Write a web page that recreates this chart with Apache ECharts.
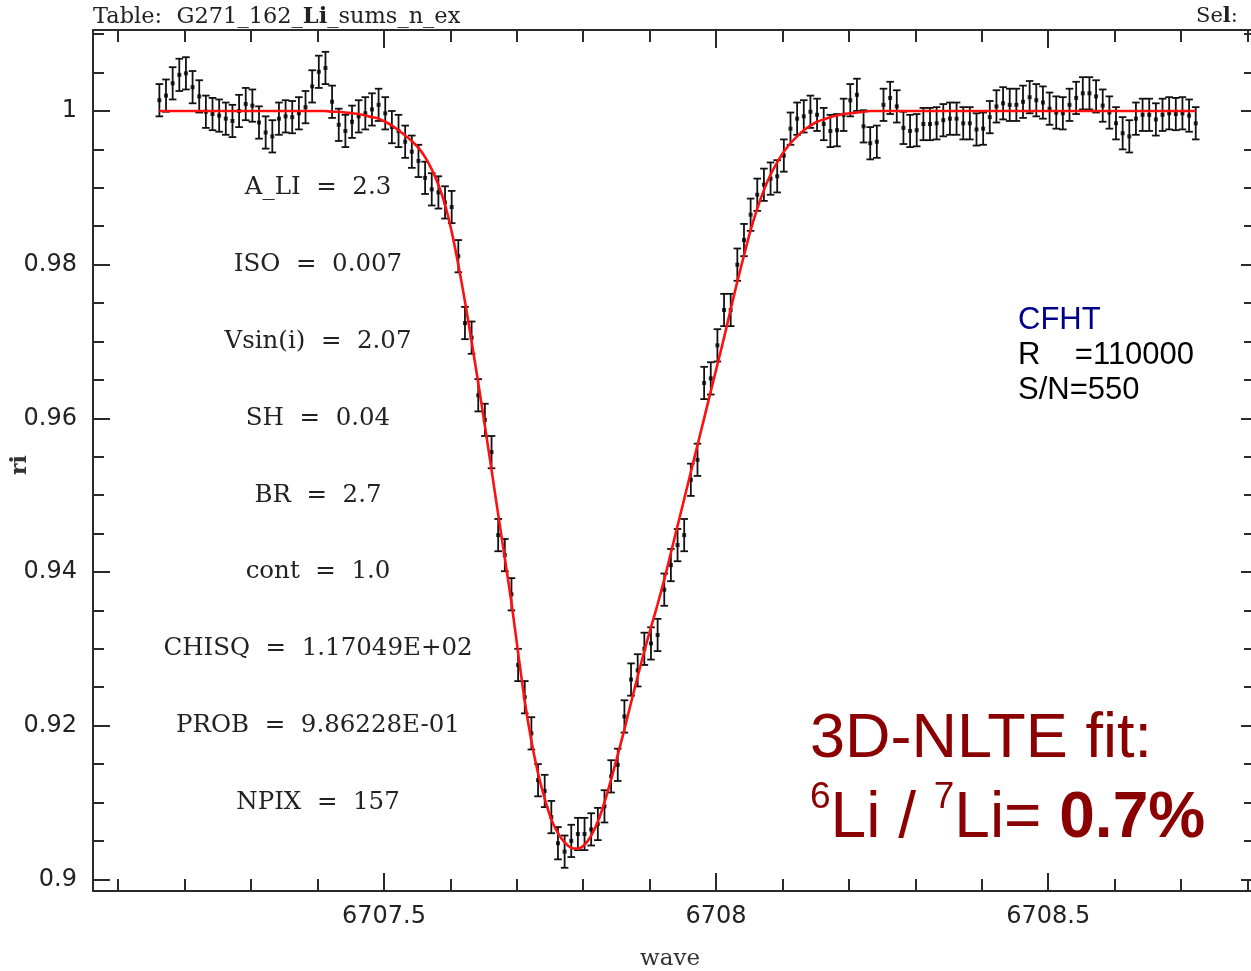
<!DOCTYPE html>
<html>
<head>
<meta charset="utf-8">
<script src="https://cdn.jsdelivr.net/npm/echarts@6/dist/echarts.min.js"></script>
<style>
  html, body { margin: 0; padding: 0; background: #ffffff; }
  #chart { width: 1251px; height: 971px; }
</style>
</head>
<body>
<div id="chart"></div>
<script>
// Wavelength grid of the spectrum (Angstrom): first pixel and pixel step
const WAVE_START = 6707.162;
const WAVE_STEP = 0.01;

// Normalised observed flux, one value per pixel (157 pixels)
const FLUX = [
  1.0014, 1.0020, 1.0036, 1.0047, 1.0049, 1.0031, 1.0019, 0.9999, 0.9996, 0.9994,
  0.9990, 0.9987, 1.0000, 1.0009, 1.0007, 0.9985, 0.9972, 0.9967, 0.9990, 0.9993,
  0.9992, 0.9997, 1.0005, 1.0032, 1.0051, 1.0056, 1.0012, 0.9982, 0.9974, 0.9986,
  0.9993, 0.9997, 1.0002, 1.0008, 0.9997, 0.9979, 0.9974, 0.9960, 0.9947, 0.9935,
  0.9913, 0.9898, 0.9894, 0.9881, 0.9875, 0.9811, 0.9724, 0.9705, 0.9630, 0.9598,
  0.9556, 0.9448, 0.9422, 0.9371, 0.9279, 0.9237, 0.9190, 0.9129, 0.9115, 0.9081,
  0.9047, 0.9036, 0.9050, 0.9059, 0.9059, 0.9065, 0.9072, 0.9095, 0.9134, 0.9149,
  0.9212, 0.9260, 0.9272, 0.9300, 0.9307, 0.9318, 0.9377, 0.9409, 0.9435, 0.9448,
  0.9520, 0.9546, 0.9646, 0.9652, 0.9695, 0.9741, 0.9741, 0.9800, 0.9832, 0.9865,
  0.9891, 0.9904, 0.9912, 0.9915, 0.9942, 0.9977, 0.9990, 0.9993, 0.9999, 0.9995,
  0.9983, 0.9974, 0.9975, 0.9995, 1.0014, 1.0021, 0.9980, 0.9958, 0.9960, 1.0008,
  1.0017, 1.0006, 0.9978, 0.9974, 0.9975, 0.9983, 0.9983, 0.9984, 0.9988, 0.9990,
  0.9990, 0.9984, 0.9984, 0.9976, 0.9977, 0.9992, 1.0006, 1.0010, 1.0008, 1.0008,
  1.0012, 1.0018, 1.0014, 1.0011, 1.0003, 0.9998, 0.9997, 1.0008, 1.0017, 1.0023,
  1.0023, 1.0019, 1.0007, 0.9998, 0.9984, 0.9971, 0.9967, 0.9990, 0.9995, 0.9995,
  0.9989, 0.9995, 0.9997, 0.9996, 0.9997, 0.9994, 0.9984
];

// One-sigma flux uncertainty per pixel
const FLUX_ERR = 0.0021;

// Synthetic 3D-NLTE profile of the best fit, one value per pixel
const FIT = [
  1.0000, 1.0000, 1.0000, 1.0000, 1.0000, 1.0000, 1.0000, 1.0000, 1.0000, 1.0000,
  1.0000, 1.0000, 1.0000, 1.0000, 1.0000, 1.0000, 1.0000, 1.0000, 1.0000, 1.0000,
  1.0000, 1.0000, 1.0000, 1.0000, 1.0000, 1.0000, 0.9999, 0.9999, 0.9998, 0.9997,
  0.9996, 0.9994, 0.9992, 0.9990, 0.9986, 0.9981, 0.9975, 0.9968, 0.9961, 0.9952,
  0.9940, 0.9924, 0.9904, 0.9878, 0.9843, 0.9800, 0.9752, 0.9700, 0.9646, 0.9590,
  0.9533, 0.9475, 0.9418, 0.9360, 0.9295, 0.9232, 0.9180, 0.9138, 0.9105, 0.9078,
  0.9060, 0.9048, 0.9041, 0.9040, 0.9045, 0.9057, 0.9075, 0.9100, 0.9130, 0.9162,
  0.9195, 0.9230, 0.9264, 0.9297, 0.9328, 0.9358, 0.9390, 0.9425, 0.9460, 0.9495,
  0.9530, 0.9565, 0.9600, 0.9635, 0.9670, 0.9705, 0.9742, 0.9778, 0.9812, 0.9845,
  0.9873, 0.9897, 0.9917, 0.9933, 0.9947, 0.9958, 0.9967, 0.9975, 0.9981, 0.9986,
  0.9989, 0.9992, 0.9994, 0.9996, 0.9997, 0.9998, 0.9999, 1.0000, 1.0000, 1.0000,
  1.0000, 1.0000, 1.0000, 1.0000, 1.0000, 1.0000, 1.0000, 1.0000, 1.0000, 1.0000,
  1.0000, 1.0000, 1.0000, 1.0000, 1.0000, 1.0000, 1.0000, 1.0000, 1.0000, 1.0000,
  1.0000, 1.0000, 1.0000, 1.0000, 1.0000, 1.0000, 1.0000, 1.0000, 1.0000, 1.0000,
  1.0000, 1.0000, 1.0000, 1.0000, 1.0000, 1.0000, 1.0000, 1.0000, 1.0000, 1.0000,
  1.0000, 1.0000, 1.0000, 1.0000, 1.0000, 1.0000, 1.0000
];

// Axis ranges and ticks
const X_MIN = 6707.0621;
const X_MAX = 6708.8067;
const Y_MIN = 0.89848;
const Y_MAX = 1.01054;
const X_MAJOR = [6707.5, 6708, 6708.5];
const X_MINOR = [6707.1, 6707.2, 6707.3, 6707.4, 6707.6, 6707.7, 6707.8, 6707.9,
                 6708.1, 6708.2, 6708.3, 6708.4, 6708.6, 6708.7, 6708.8];
const Y_MAJOR = [0.9, 0.92, 0.94, 0.96, 0.98, 1.0];
const Y_MINOR = [0.905, 0.91, 0.915, 0.925, 0.93, 0.935, 0.945, 0.95, 0.955,
                 0.965, 0.97, 0.975, 0.985, 0.99, 0.995, 1.005, 1.01];

// Fit result listing
const FIT_PARAMS = [
  'A_LI  =  2.3',
  'ISO  =  0.007',
  'Vsin(i)  =  2.07',
  'SH  =  0.04',
  'BR  =  2.7',
  'cont  =  1.0',
  'CHISQ  =  1.17049E+02',
  'PROB  =  9.86228E-01',
  'NPIX  =  157'
];
const FIT_PARAM_LEVELS = [0.99, 0.98, 0.97, 0.96, 0.95, 0.94, 0.93, 0.92, 0.91];

const AXIS_COLOR = '#2a2a2a';
const SERIF = '"DejaVu Serif", "Liberation Serif", serif';
const SANS = '"DejaVu Sans", sans-serif';
const ARIAL = '"Liberation Sans", Arial, sans-serif';

const points = FLUX.map((f, i) => [WAVE_START + i * WAVE_STEP, f, FLUX_ERR]);
const fitLine = FIT.map((f, i) => [WAVE_START + i * WAVE_STEP, f]);

function xAxisDef(position, ticks, len, showLine, labels) {
  return {
    type: 'value', position: position, min: X_MIN, max: X_MAX,
    splitLine: { show: false },
    axisLine: { show: showLine, onZero: false, lineStyle: { color: AXIS_COLOR, width: 2 } },
    axisTick: { show: true, inside: true, length: len, customValues: ticks,
                lineStyle: { color: AXIS_COLOR, width: 2 } },
    axisLabel: labels ? {
      show: true, customValues: ticks, margin: 14, color: '#222',
      fontFamily: SANS, fontSize: 24,
      formatter: v => String(+v.toFixed(1))
    } : { show: false }
  };
}

function yAxisDef(position, ticks, len, showLine, labels) {
  return {
    type: 'value', position: position, min: Y_MIN, max: Y_MAX,
    splitLine: { show: false },
    axisLine: { show: showLine, onZero: false, lineStyle: { color: AXIS_COLOR, width: 2 } },
    axisTick: { show: true, inside: true, length: len, customValues: ticks,
                lineStyle: { color: AXIS_COLOR, width: 2 } },
    axisLabel: labels ? {
      show: true, customValues: ticks, margin: 16, color: '#222',
      fontFamily: SANS, fontSize: 24,
      formatter: v => String(+v.toFixed(2))
    } : { show: false }
  };
}

const chart = echarts.init(document.getElementById('chart'), null, { renderer: 'canvas' });

const option = {
  animation: false,
  backgroundColor: '#ffffff',
  grid: { left: 93, top: 30, width: 1159, height: 861, containLabel: false, outerBoundsMode: 'none' },
  xAxis: [
    xAxisDef('bottom', X_MAJOR, 18, true, true),
    xAxisDef('bottom', X_MINOR, 12, false, false),
    xAxisDef('top', X_MAJOR, 18, true, false),
    xAxisDef('top', X_MINOR, 12, false, false)
  ],
  yAxis: [
    yAxisDef('left', Y_MAJOR, 17, true, true),
    yAxisDef('left', Y_MINOR, 11, false, false),
    yAxisDef('right', Y_MAJOR, 11, true, false),
    yAxisDef('right', Y_MINOR, 8, false, false)
  ],
  series: [
    {
      type: 'custom',
      name: 'error bars',
      xAxisIndex: 0, yAxisIndex: 0,
      z: 2,
      data: points,
      renderItem: function (params, api) {
        const x = api.value(0), y = api.value(1), e = api.value(2);
        const top = api.coord([x, y + e]);
        const bot = api.coord([x, y - e]);
        const hw = 3.8;
        const st = { stroke: '#111', lineWidth: 1.8 };
        return {
          type: 'group',
          children: [
            { type: 'line', shape: { x1: top[0], y1: top[1], x2: bot[0], y2: bot[1] }, style: st },
            { type: 'line', shape: { x1: top[0] - hw, y1: top[1], x2: top[0] + hw, y2: top[1] }, style: st },
            { type: 'line', shape: { x1: bot[0] - hw, y1: bot[1], x2: bot[0] + hw, y2: bot[1] }, style: st }
          ]
        };
      }
    },
    {
      type: 'scatter',
      name: 'flux',
      xAxisIndex: 0, yAxisIndex: 0,
      z: 3,
      symbol: 'rect',
      symbolSize: 4,
      itemStyle: { color: '#000' },
      data: points.map(p => [p[0], p[1]])
    },
    {
      type: 'line',
      name: 'fit',
      xAxisIndex: 0, yAxisIndex: 0,
      z: 4,
      showSymbol: false,
      smooth: 0.3,
      lineStyle: { color: '#ff1010', width: 2.6 },
      data: fitLine
    }
  ]
};

chart.setOption(option);

// Annotations: table header, axis names, fit parameters, instrument and result boxes
const paramX = 318;
const graphics = [
  {
    type: 'text', x: 93, y: 17,
    style: {
      text: '{n|Table:  G271_162_}{b|Li}{n|_sums_n_ex}',
      textVerticalAlign: 'middle',
      rich: {
        n: { fontFamily: SERIF, fontSize: 22.5, fill: '#222' },
        b: { fontFamily: SERIF, fontSize: 22.5, fontWeight: 'bold', fill: '#222' }
      }
    }
  },
  {
    type: 'text', x: 1196, y: 17,
    style: {
      text: '{n|Se}{b|l}{n|:}',
      textVerticalAlign: 'middle',
      rich: {
        n: { fontFamily: SERIF, fontSize: 21, fill: '#222' },
        b: { fontFamily: SERIF, fontSize: 21, fontWeight: 'bold', fill: '#222' }
      }
    }
  },
  {
    type: 'text', x: 670, y: 959,
    style: { text: 'wave', fontFamily: SERIF, fontSize: 23, fill: '#333',
             textAlign: 'center', textVerticalAlign: 'middle' }
  },
  {
    type: 'text', x: 20, y: 465, rotation: Math.PI / 2,
    style: { text: 'ri', fontFamily: SERIF, fontSize: 22, fontWeight: 'bold', fill: '#333',
             textAlign: 'center', textVerticalAlign: 'middle' }
  },
  {
    type: 'text', x: 1018, y: 320,
    style: { text: 'CFHT', font: '31px ' + ARIAL, fill: '#00008b', textVerticalAlign: 'middle' }
  },
  {
    type: 'text', x: 1018, y: 355,
    style: { text: 'R    =110000', font: '31px ' + ARIAL, fill: '#000', textVerticalAlign: 'middle' }
  },
  {
    type: 'text', x: 1018, y: 390,
    style: { text: 'S/N=550', font: '31px ' + ARIAL, fill: '#000', textVerticalAlign: 'middle' }
  },
  {
    type: 'text', x: 810, y: 740,
    style: { text: '3D-NLTE fit:', font: '63px ' + ARIAL, fill: '#8b0000', textVerticalAlign: 'middle' }
  },
  {
    type: 'text', x: 810, y: 815,
    style: {
      text: '{sup|6}{n|Li / }{sup|7}{n|Li= }{b|0.7%}',
      textVerticalAlign: 'middle',
      rich: {
        n: { fontFamily: ARIAL, fontSize: 64, fill: '#8b0000', lineHeight: 72, verticalAlign: 'bottom' },
        sup: { fontFamily: ARIAL, fontSize: 37, fill: '#8b0000', lineHeight: 72, verticalAlign: 'top' },
        b: { fontFamily: ARIAL, fontSize: 64, fontWeight: 'bold', fill: '#8b0000', lineHeight: 72, verticalAlign: 'bottom' }
      }
    }
  }
];

FIT_PARAMS.forEach((t, i) => {
  const py = chart.convertToPixel({ yAxisIndex: 0 }, FIT_PARAM_LEVELS[i]);
  graphics.push({
    type: 'text', x: paramX, y: py,
    style: { text: t, fontFamily: SERIF, fontSize: 24.5, fill: '#222',
             textAlign: 'center', textVerticalAlign: 'middle' }
  });
});

chart.setOption({ graphic: graphics });
</script>
</body>
</html>
